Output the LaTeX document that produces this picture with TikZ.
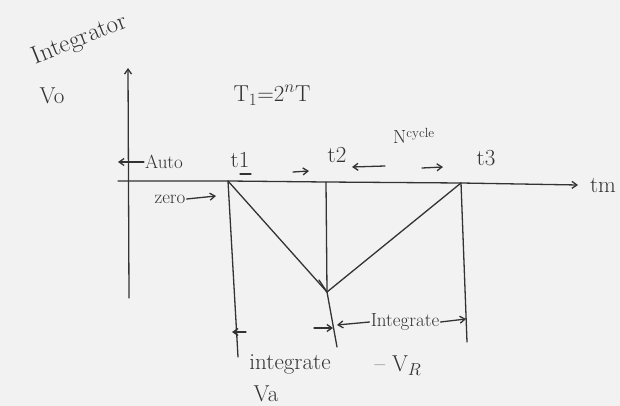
\documentclass[tikz,border=0pt]{standalone}
\usepackage{fontspec}
\usetikzlibrary{arrows.meta}
\begin{document}
\begin{tikzpicture}[x=1pt,y=-1pt,
  pen/.style={draw=black!80,line width=1.3pt,line cap=round},
  lbl/.style={text=black!80,font=\fontsize{23}{25}\selectfont,inner sep=1pt},
  sm/.style={text=black!80,font=\fontsize{19}{21}\selectfont,inner sep=1pt},
  arr/.style={pen,-{Straight Barb[length=5pt,width=7pt]}}]
\fill[black!5] (0,0) rectangle (620,406);
\useasboundingbox (0,0) rectangle (620,406);
% key points
\coordinate (yt) at (128,68);
\coordinate (yb) at (129,298);
\coordinate (o) at (118,181);
\coordinate (t1) at (228,181);
\coordinate (t2) at (326,182);
\coordinate (t3) at (461,183);
\coordinate (xe) at (578,185);
\coordinate (v) at (327,292);
\coordinate (t1b) at (238,357);
\coordinate (t2b) at (337,347);
\coordinate (t3b) at (467,342);
% axes
\draw[arr] (yb) -- (yt);
\draw[arr] (o) -- (t1) -- (t2) -- (t3) -- (xe);
% verticals
\draw[pen] (t1) -- (t1b);
\draw[pen] (t2) -- (v) -- (t2b);
\draw[pen] (t3) -- (t3b);
% ramps
\draw[pen] (t1) -- (v) -- (t3);
\draw[pen] (v) -- ++(-8,-12);
% labels
\node[lbl,rotate=22,font=\fontsize{25}{27}\selectfont] (integ) at (80,40) {Integrator};
\node[lbl] (vo) at (52,96) {Vo};
\node[lbl] (ti) at (272,95) {T$_1$=2$^n$T};
\node[lbl] (lt1) at (240,160) {t1};
\node[lbl] (lt2) at (337,155) {t2};
\node[lbl] (lt3) at (486,158) {t3};
\node[lbl] (tm) at (603,186) {tm};
\node[sm] (ncy) at (414,136) {N$^{\rm cycle}$};
\node[sm] (auto) at (164,162) {Auto};
\coordinate (autoa) at (118,162);
\draw[arr] (auto.west) -- (autoa);
\node[sm] (zero) at (170,199) {zero};
\coordinate (zeroa) at (216,196);
\draw[arr] (zero.east) -- (zeroa);
\draw[pen] (240,174) -- (251,174);
\coordinate (a1s) at (293,172);
\coordinate (a1e) at (309,171);
\draw[arr] (a1s) -- (a1e);
\coordinate (a2s) at (385,166);
\coordinate (a2e) at (352,167);
\draw[arr] (a2s) -- (a2e);
\coordinate (a3s) at (422,168);
\coordinate (a3e) at (443,167);
\draw[arr] (a3s) -- (a3e);
% bottom annotations
\coordinate (b1s) at (246,332);
\coordinate (b1e) at (232,332);
\draw[arr] (b1s) -- (b1e);
\coordinate (b2s) at (314,328);
\coordinate (b2e) at (333,328);
\draw[arr] (b2s) -- (b2e);
\node[sm] (intr) at (405,322) {Integrate};
\coordinate (b3e) at (337,325);
\draw[arr] (intr.west) -- (b3e);
\coordinate (b4e) at (466,319);
\draw[arr] (intr.east) -- (b4e);
\node[lbl] (intl) at (290,364) {integrate};
\node[lbl] (va) at (266,394) {Va};
\node[lbl] (vr) at (398,366) {-- V$_R$};
\end{tikzpicture}
\end{document}
